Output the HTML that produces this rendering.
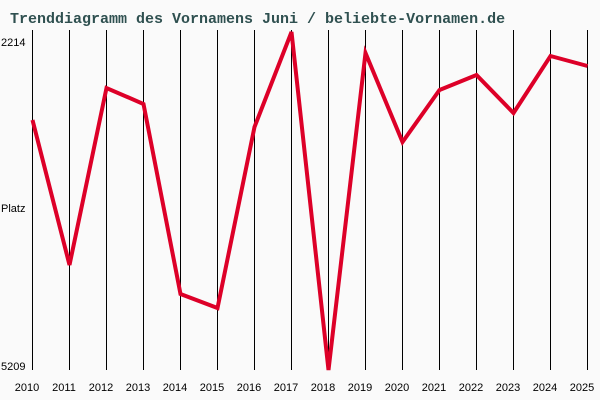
<!DOCTYPE html>
<html><head><meta charset="utf-8"><style>
body{margin:0;background:#fafafa;}
svg{display:block}
</style></head><body>
<svg width="600" height="400" xmlns="http://www.w3.org/2000/svg">
<rect width="600" height="400" fill="#fafafa"/>
<text x="10" y="23" font-family="Liberation Mono, monospace" font-size="15" font-weight="bold" fill="#2f5050">Trenddiagramm des Vornamens Juni / beliebte-Vornamen.de</text>
<g stroke="#000" stroke-width="1">
<line x1="32.5" y1="30" x2="32.5" y2="370"/>
<line x1="69.5" y1="30" x2="69.5" y2="370"/>
<line x1="106.5" y1="30" x2="106.5" y2="370"/>
<line x1="143.5" y1="30" x2="143.5" y2="370"/>
<line x1="180.5" y1="30" x2="180.5" y2="370"/>
<line x1="217.5" y1="30" x2="217.5" y2="370"/>
<line x1="254.5" y1="30" x2="254.5" y2="370"/>
<line x1="291.5" y1="30" x2="291.5" y2="370"/>
<line x1="328.5" y1="30" x2="328.5" y2="370"/>
<line x1="365.5" y1="30" x2="365.5" y2="370"/>
<line x1="402.5" y1="30" x2="402.5" y2="370"/>
<line x1="439.5" y1="30" x2="439.5" y2="370"/>
<line x1="476.5" y1="30" x2="476.5" y2="370"/>
<line x1="513.5" y1="30" x2="513.5" y2="370"/>
<line x1="550.5" y1="30" x2="550.5" y2="370"/>
<line x1="587.5" y1="30" x2="587.5" y2="370"/>
</g>
<g font-family="Liberation Sans, sans-serif" font-size="11" fill="#000">
<text x="1" y="46">2214</text>
<text x="1" y="212">Platz</text>
<text x="1" y="370">5209</text>
</g>
<g font-family="Liberation Sans, sans-serif" font-size="11" fill="#000" text-anchor="middle">
<text x="27" y="391">2010</text><text x="64" y="391">2011</text><text x="101" y="391">2012</text><text x="138" y="391">2013</text>
<text x="175" y="391">2014</text><text x="212" y="391">2015</text><text x="249" y="391">2016</text><text x="286" y="391">2017</text>
<text x="323" y="391">2018</text><text x="360" y="391">2019</text><text x="397" y="391">2020</text><text x="434" y="391">2021</text>
<text x="471" y="391">2022</text><text x="508" y="391">2023</text><text x="545" y="391">2024</text><text x="582" y="391">2025</text>
</g>
<polyline fill="none" stroke="#dd0028" stroke-width="4" stroke-linejoin="miter"
points="32.5,120 69.5,265 106.5,88 143.5,104 180.5,294 217.5,308 254.5,127 291.5,32 328.5,370 365.5,53 402.5,142 439.5,90 476.5,75 513.5,113 550.5,56 587.5,66"/>
</svg>
</body></html>
